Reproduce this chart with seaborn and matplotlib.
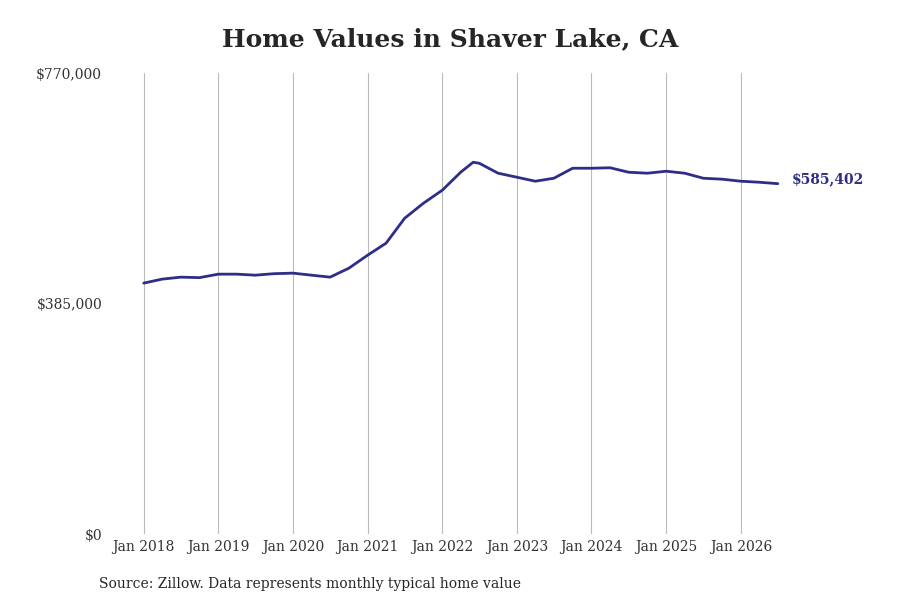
import matplotlib.pyplot as plt
import seaborn as sns
import pandas as pd

# quarterly typical home values
dates = ['2018-01', '2018-04', '2018-07', '2018-10', '2019-01', '2019-04', '2019-07', '2019-10',
         '2020-01', '2020-04', '2020-07', '2020-10', '2021-01', '2021-04', '2021-07', '2021-10',
         '2022-01', '2022-04', '2022-06', '2022-07', '2022-10', '2023-01', '2023-04', '2023-07',
         '2023-10', '2024-01', '2024-04', '2024-07', '2024-10', '2025-01', '2025-04', '2025-07',
         '2025-10', '2026-01', '2026-04', '2026-07']
values = [419200, 425900, 429200, 428400, 434200, 434200, 432500, 435000,
          435900, 432500, 429200, 444200, 466000, 486000, 527700, 552800,
          574500, 604500, 621200, 619500, 602900, 596200, 589500, 594500,
          611200, 611200, 612000, 604500, 602900, 606200, 602900, 594500,
          592900, 589500, 587800, 585402]
years = list(range(2018, 2027))

df = pd.DataFrame({'date': pd.to_datetime(dates), 'value': values})

sns.set_style('white')
plt.rcParams['font.family'] = ['DejaVu Serif']
color = '#2e2d88'

fig, ax = plt.subplots(figsize=(9, 6), dpi=100)
fig.subplots_adjust(left=0.132, right=0.899, top=0.878, bottom=0.11)
sns.lineplot(data=df, x='date', y='value', color=color, linewidth=2, ax=ax)

ax.set_xlim(pd.Timestamp('2017-09-01'), pd.Timestamp('2026-12-01'))
ax.set_ylim(0, 770000)
ax.set_xticks([pd.Timestamp(f'{y}-01-01') for y in years])
ax.set_xticklabels([f'Jan {y}' for y in years], fontsize=10, color='#333333')
ax.set_yticks([0, 385000, 770000])
ax.set_yticklabels(['$0', '$385,000', '$770,000'], fontsize=10, color='#333333')
ax.grid(axis='x', color='#bbbbbb', linewidth=0.8)
for s in ax.spines.values():
    s.set_visible(False)
ax.tick_params(axis='y', length=0, pad=12)
ax.tick_params(axis='x', length=0, pad=4)
ax.set_xlabel('')
ax.set_ylabel('')

ax.text(df['date'].iloc[-1] + pd.Timedelta(days=70), values[-1] + 8000, f'${values[-1]:,}',
        color=color, fontsize=10, fontweight='bold', va='center')
fig.suptitle('Home Values in Shaver Lake, CA', fontsize=18, fontweight='bold', y=0.955)
fig.text(0.11, 0.02, 'Source: Zillow. Data represents monthly typical home value', fontsize=10)

fig.savefig('out.png')
